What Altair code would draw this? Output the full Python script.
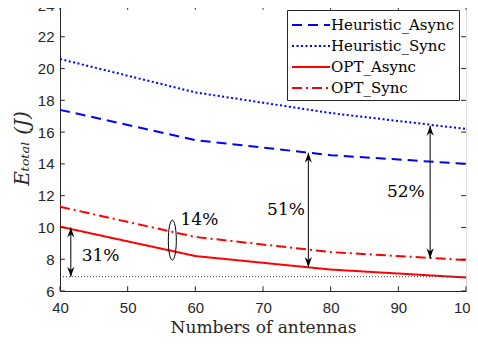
import altair as alt
import pandas as pd

# ---- data ----
antennas = [40, 60, 80, 100]
heur_async = [17.4, 15.5, 14.55, 14.0]
heur_sync = [20.6, 18.5, 17.2, 16.2]
opt_async = [10.05, 8.2, 7.35, 6.85]
opt_sync = [11.3, 9.4, 8.45, 7.95]
series_names = ["Heuristic_Async", "Heuristic_Sync", "OPT_Async", "OPT_Sync"]
series_colors = ["#0000ff", "#0000ff", "#ff0000", "#ff0000"]
series_dash = [[10, 6], [2, 2.5], [1, 0], [10, 4, 2, 4]]

baseline_y = [6.9]
baseline_x = [40]
baseline_x2 = [100]

arrow_x = [41.6, 76.7, 94.7]
arrow_top = [10.0, 14.7, 16.4]
arrow_bottom = [6.9, 7.5, 8.05]

label_text = ["31%", "14%", "51%", "52%"]
label_x = [46.0, 60.6, 73.4, 91.1]
label_y = [8.2, 10.5, 11.1, 12.2]

ellipse_x = [56.6]
ellipse_y = [9.2]

ticks_x = [40, 50, 60, 70, 80, 90, 100]
ticks_y = [6, 8, 10, 12, 14, 16, 18, 20, 22, 24]

# ---- tables ----
rows = []
for name, vals in zip(series_names, [heur_async, heur_sync, opt_async, opt_sync]):
    for a, v in zip(antennas, vals):
        rows.append({"x": a, "y": v, "series": name})
lines_df = pd.DataFrame(rows)
arrows_df = pd.DataFrame({"x": arrow_x, "top": arrow_top, "bottom": arrow_bottom})
labels_df = pd.DataFrame({"x": label_x, "y": label_y, "t": label_text})
ell_df = pd.DataFrame({"x": ellipse_x, "y": ellipse_y})
base_df = pd.DataFrame({"x": baseline_x, "x2": baseline_x2, "y": baseline_y})
tx_df = pd.DataFrame({"x": ticks_x})
ty_df = pd.DataFrame({"y": ticks_y})

W, H = 406, 286
xs = alt.Scale(domain=[40, 100], nice=False, zero=False)
ys = alt.Scale(domain=[6, 24], nice=False, zero=False)

sans = "Liberation Sans"
serif = "DejaVu Serif"

xaxis = alt.Axis(values=ticks_x, ticks=False, grid=False, labelFont=sans, labelFontSize=15,
                 labelColor="#262626", labelOverlap=False, labelFlush=False, labelBound=False,
                 title="Numbers of antennas", titleFont=serif,
                 titleFontSize=17, titleFontWeight="normal", titleColor="#262626",
                 labelPadding=9, titlePadding=4, domainColor="#262626")
yaxis = alt.Axis(values=ticks_y, ticks=False, grid=False, labelFont=sans, labelFontSize=15,
                 labelColor="#262626", labelOverlap=False, labelFlush=False, labelBound=False,
                 title="Eₜₒₜₐₗ (J)", titleFont=serif,
                 titleFontSize=20, titleFontWeight="normal", titleFontStyle="italic",
                 titleColor="#262626", labelPadding=6, titlePadding=5, domainColor="#262626")


def X(field):
    return alt.X(field, type="quantitative", scale=xs, axis=xaxis)


def Y(field):
    return alt.Y(field, type="quantitative", scale=ys, axis=yaxis)


lines = alt.Chart(lines_df).mark_line(strokeWidth=2).encode(
    x=X("x"),
    y=Y("y"),
    color=alt.Color("series:N", scale=alt.Scale(domain=series_names, range=series_colors),
                    legend=alt.Legend(title=None, orient="none", legendX=227, legendY=5,
                                      labelFont=serif, labelFontSize=15, labelColor="#000",
                                      symbolType="M-1,0L2.8,0", symbolSize=400,
                                      symbolStrokeWidth=2,
                                      fillColor="white", strokeColor="#262626", padding=4,
                                      rowPadding=2, labelOffset=18)),
    strokeDash=alt.StrokeDash("series:N", scale=alt.Scale(domain=series_names, range=series_dash),
                              legend=None),
)

base = alt.Chart(base_df).mark_rule(color="#444", strokeWidth=1, strokeDash=[1, 2]).encode(
    x=X("x"), x2="x2:Q", y=Y("y"))

arrows = alt.Chart(arrows_df).mark_rule(color="black", strokeWidth=1).encode(
    x=X("x"), y=Y("top"), y2="bottom:Q")

up_head = "M0,0 L-0.6,1.7 L0,1.15 L0.6,1.7 Z"
down_head = "M0,0 L-0.6,-1.7 L0,-1.15 L0.6,-1.7 Z"
heads_top = alt.Chart(arrows_df).mark_point(shape=up_head, filled=True, color="black",
                                             size=140, opacity=1).encode(x=X("x"), y=Y("top"))
heads_bot = alt.Chart(arrows_df).mark_point(shape=down_head, filled=True, color="black",
                                             size=140, opacity=1).encode(x=X("x"), y=Y("bottom"))

ell = alt.Chart(ell_df).mark_point(
    shape="M0,-1 A0.2,1 0 1,1 0,1 A0.2,1 0 1,1 0,-1", color="black", strokeWidth=1,
    size=1600, filled=False, opacity=1).encode(x=X("x"), y=Y("y"))

texts = alt.Chart(labels_df).mark_text(font=serif, fontSize=17, color="black").encode(
    x=X("x"), y=Y("y"), text="t:N")

tick_len_y = 0.3
tick_len_x = 0.72
tb = alt.Chart(tx_df).transform_calculate(y0="6", y1=f"6+{tick_len_y}").mark_rule(
    color="#262626").encode(x=X("x"), y=Y("y0"), y2="y1:Q")
tt = alt.Chart(tx_df).transform_calculate(y0="24", y1=f"24-{tick_len_y}").mark_rule(
    color="#262626").encode(x=X("x"), y=Y("y0"), y2="y1:Q")
tl = alt.Chart(ty_df).transform_calculate(x0="40", x1=f"40+{tick_len_x}").mark_rule(
    color="#262626").encode(y=Y("y"), x=X("x0"), x2="x1:Q")
tr = alt.Chart(ty_df).transform_calculate(x0="100", x1=f"100-{tick_len_x}").mark_rule(
    color="#262626").encode(y=Y("y"), x=X("x0"), x2="x1:Q")

chart = alt.layer(lines, base, arrows, heads_top, heads_bot, ell, texts, tb, tt, tl, tr).properties(
    width=W, height=H,
    autosize=alt.AutoSizeParams(type="none"),
    padding={"left": 52, "top": -3, "right": 4, "bottom": 50},
).configure_view(stroke="#262626", strokeWidth=1).configure(background="white")

chart.save("out.html", embed_options={"renderer": "svg", "actions": False})
